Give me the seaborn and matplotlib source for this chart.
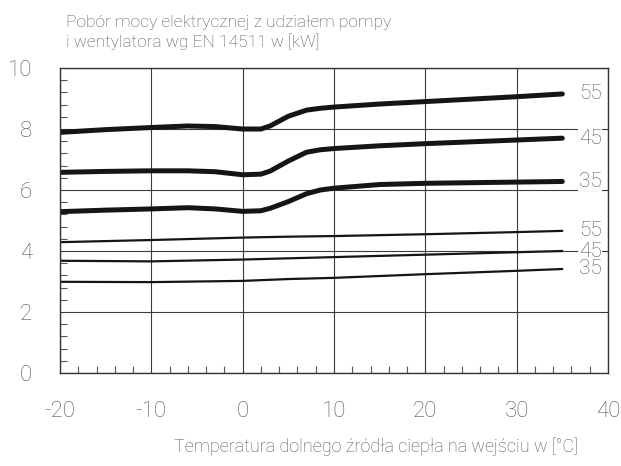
import pandas as pd
import matplotlib
matplotlib.use("Agg")
import matplotlib.pyplot as plt
from matplotlib.ticker import MultipleLocator
import seaborn as sns

# temperatura [°C] -> pobór mocy [kW]
x_thick = [-20, -15, -10, -6, -3, 0, 2, 3, 5, 7, 8.5, 10, 15, 20, 25, 30, 35]
p55_hi = [7.89, 7.98, 8.05, 8.1, 8.08, 8.0, 8.0, 8.1, 8.42, 8.62, 8.68, 8.72, 8.82, 8.9, 8.98, 9.06, 9.15]
p45_hi = [6.58, 6.61, 6.63, 6.63, 6.6, 6.5, 6.52, 6.62, 6.95, 7.24, 7.32, 7.36, 7.45, 7.52, 7.58, 7.64, 7.7]
p35_hi = [5.29, 5.34, 5.38, 5.42, 5.38, 5.3, 5.32, 5.4, 5.62, 5.88, 6.0, 6.06, 6.18, 6.22, 6.24, 6.26, 6.28]

x_thin = [-20, -10, 0, 5, 10, 20, 30, 35]
p55_lo = [4.29, 4.36, 4.44, 4.47, 4.49, 4.55, 4.62, 4.66]
p45_lo = [3.68, 3.66, 3.72, 3.76, 3.8, 3.88, 3.96, 4.0]
p35_lo = [2.99, 2.98, 3.02, 3.08, 3.12, 3.24, 3.35, 3.41]

labels = ["55", "45", "35"]

sns.set_style("white")
plt.rcParams["font.family"] = ["Roboto", "DejaVu Sans"]
plt.rcParams["axes.unicode_minus"] = False
grey = "#555555"

fig = plt.figure(figsize=(6.21, 4.66), dpi=100)
ax = fig.add_axes([0.0966, 0.1996, 0.8824, 0.6544])

for y in [p55_hi, p45_hi, p35_hi]:
    sns.lineplot(x=x_thick, y=y, ax=ax, color="#151515", linewidth=3.6,
                 solid_capstyle="round")
for y in [p55_lo, p45_lo, p35_lo]:
    sns.lineplot(x=x_thin, y=y, ax=ax, color="#151515", linewidth=1.6)

# opisy krzywych
for lab, y in zip(labels + labels, [p55_hi, p45_hi, p35_hi, p55_lo, p45_lo, p35_lo]):
    ax.text(36.8, y[-1], lab, fontsize=15, color=grey, va="center", ha="left",
            fontweight="light",
            bbox=dict(facecolor="white", edgecolor="none", pad=0.3))

ax.set_xlim(-20, 40)
ax.set_ylim(0, 10)
ax.xaxis.set_major_locator(MultipleLocator(10))
ax.xaxis.set_minor_locator(MultipleLocator(2))
ax.yaxis.set_major_locator(MultipleLocator(2))
ax.yaxis.set_minor_locator(MultipleLocator(0.4))
ax.grid(True, which="major", color="#3a3a3a", linewidth=0.8)
ax.set_axisbelow(True)
for s in ax.spines.values():
    s.set_color("#333333")
    s.set_linewidth(1.0)

ax.tick_params(which="major", direction="in", length=0, labelsize=16,
               labelcolor=grey)
ax.tick_params(axis="x", which="major", pad=20)
ax.tick_params(axis="y", which="major", pad=20)
ax.tick_params(which="minor", direction="in", length=5, width=0.8,
               color="#555555", bottom=True, left=True)
for t in ax.get_xticklabels() + ax.get_yticklabels():
    t.set_fontweight("light")

fig.text(0.106, 0.968, "Pobór mocy elektrycznej z udziałem pompy\ni wentylatora wg EN 14511 w [kW]",
         fontsize=12.5, color=grey, ha="left", va="top", fontweight="light",
         linespacing=1.25)
fig.text(0.93, 0.022, "Temperatura dolnego źródła ciepła na wejściu w [°C]",
         fontsize=13, color=grey, ha="right", va="bottom", fontweight="light")

fig.savefig("out.png", dpi=100)
